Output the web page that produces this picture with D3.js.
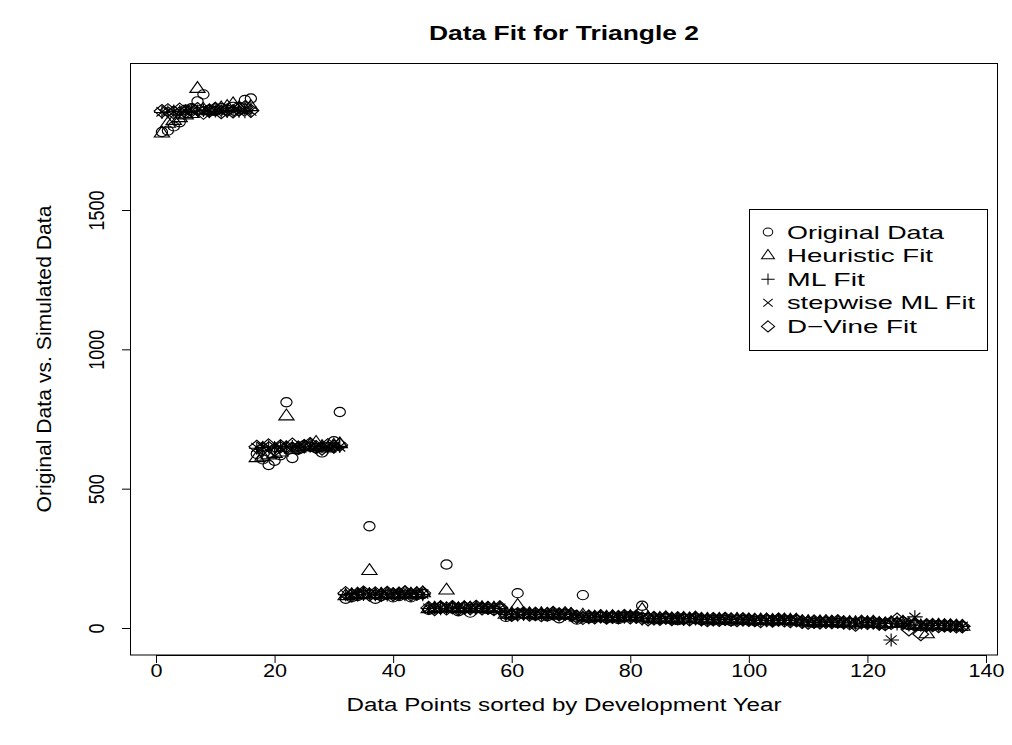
<!DOCTYPE html>
<html><head><meta charset="utf-8">
<script src="https://cdn.jsdelivr.net/npm/d3@7/dist/d3.min.js"></script>
<style>body{margin:0;background:#fff}svg{display:block}text{font-family:"Liberation Sans",Arial,Helvetica,sans-serif;fill:#000}</style>
</head><body><svg id="c" width="1012" height="745"></svg>
<script>
const original = [
1780,1785,1800,1815,1860,1865,1890,1915,1860,1855,1865,1860,1870,1870,1895,1900,
625,605,585,600,620,810,610,640,655,650,645,630,650,670,775,
105,110,115,120,365,105,115,120,110,115,120,110,118,122,
65,70,75,228,72,60,75,55,70,72,68,65,70,
40,45,125,50,48,45,50,42,48,35,50,45,
30,118,35,38,40,35,38,32,40,42,38,
80,35,30,32,35,30,28,32,30,35,
28,30,27,30,28,25,30,28,27,
25,28,30,25,27,30,26,28,
20,22,18,20,22,20,18,
18,20,15,22,18,20,
15,12,20,18,22,
10,12,8,10,
8,10,6,
8,6,
5];
const heuristic = [
1775,1810,1820,1830,1840,1845,1935,1860,1855,1860,1865,1870,1880,1865,1860,1870,
610,615,620,625,630,760,640,645,650,655,665,650,645,655,660,
115,118,120,122,205,118,120,122,118,120,125,120,122,125,
68,70,72,135,70,68,72,70,70,72,68,70,70,
48,50,80,50,50,48,50,48,50,45,50,48,
38,45,38,38,40,38,40,36,40,40,38,
65,35,32,33,35,32,30,33,32,34,
30,30,28,30,29,28,30,28,28,
27,28,28,26,27,28,27,27,
22,22,20,21,22,20,20,
18,19,18,20,18,20,
15,14,18,16,20,
12,10,5,-22,
8,9,7,
7,6,
5];
const mlFit = [
1850,1852,1855,1853,1856,1854,1855,1857,1853,1856,1855,1854,1856,1855,1853,1856,
645,648,650,647,652,649,651,648,650,653,649,651,648,650,652,
120,122,119,121,123,120,122,119,121,123,120,122,121,120,
70,72,69,71,73,70,72,69,71,70,72,71,70,
48,50,47,49,51,48,50,47,49,48,50,49,
38,40,37,39,41,38,40,37,39,40,38,
33,35,32,34,36,33,35,32,34,33,
30,31,29,30,32,30,31,29,30,
27,28,26,27,29,27,28,26,
21,22,20,21,22,20,21,
18,19,17,18,20,18,
15,16,-43,15,16,
11,40,10,11,
9,10,8,
7,8,
6];
const stepwiseFit = [
1852,1855,1853,1856,1854,1855,1857,1853,1856,1855,1854,1856,1855,1853,1856,1855,
648,650,647,652,649,651,648,650,653,649,651,648,650,652,650,
121,119,121,123,120,122,119,121,123,120,122,121,120,122,
71,69,71,73,70,72,69,71,70,72,71,70,71,
49,47,49,51,48,50,47,49,48,50,49,48,
39,37,39,41,38,40,37,39,40,38,39,
34,32,34,36,33,35,32,34,33,34,
31,29,30,32,30,31,29,30,31,
28,26,27,29,27,28,26,27,
22,20,21,22,20,21,20,
19,17,18,20,18,19,
16,14,-43,15,17,
12,38,11,10,
10,8,9,
8,7,
6];
const dvineFit = [
1855,1858,1850,1860,1852,1857,1862,1849,1856,1863,1851,1858,1854,1860,1868,1856,
650,645,655,640,652,648,658,646,653,660,649,644,656,651,657,
125,118,122,127,120,124,119,126,121,123,128,120,124,126,
72,68,74,70,75,69,73,71,76,70,72,68,74,
52,47,50,53,48,51,46,50,54,49,51,48,
40,36,41,38,42,37,40,39,43,38,41,
35,31,36,33,37,32,35,34,31,36,
31,28,32,29,33,30,28,31,29,
28,25,29,26,30,27,25,28,
22,19,23,20,22,21,24,
20,17,12,21,18,20,
16,14,18,30,20,
-5,12,-22,10,
10,7,9,
8,6,
6];
const xTicks = [0,20,40,60,80,100,120,140];
const yTicks = [0,500,1000,1500];
const legendLabels = ["Original Data","Heuristic Fit","ML Fit","stepwise ML Fit","D\u2212Vine Fit"];

const svg = d3.select("#c");
const x = d3.scaleLinear().domain([0,140]).range([156,986]);
const y = d3.scaleLinear().domain([0,1500]).range([628,210]);
const idx = original.map((d,i)=>i+1);

// symbol paths (R pch 1,2,3,4,5), slightly wider than tall as in the reference
const shapes = {
  circle: "M-5.6,0A5.6,4.6 0 1,0 5.6,0A5.6,4.6 0 1,0 -5.6,0Z",
  triangle: "M0,-7.2L7.6,3.6L-7.6,3.6Z",
  plus: "M-7.8,0L7.8,0M0,-6.6L0,6.6",
  cross: "M-5.5,-4.6L5.5,4.6M-5.5,4.6L5.5,-4.6",
  diamond: "M0,-6.6L7.8,0L0,6.6L-7.8,0Z"
};
const series = [
  {vals: original, shape: "circle"},
  {vals: heuristic, shape: "triangle"},
  {vals: mlFit, shape: "plus"},
  {vals: stepwiseFit, shape: "cross"},
  {vals: dvineFit, shape: "diamond"}
];

svg.append("rect").attr("x",130.5).attr("y",63.5).attr("width",867).attr("height",591.5)
  .attr("fill","none").attr("stroke","#000").attr("stroke-width",1);

const pts = svg.append("g");
series.forEach(s=>{
  pts.selectAll(null).data(s.vals).enter().append("path")
    .attr("d",shapes[s.shape])
    .attr("transform",(d,i)=>`translate(${x(idx[i])},${y(d)})`)
    .attr("fill","none").attr("stroke","#000").attr("stroke-width",1.15);
});

// x axis
const xa = svg.append("g").attr("transform","translate(0,655)")
  .call(d3.axisBottom(x).tickValues(xTicks).tickSize(8).tickFormat(d3.format("d")));
xa.select(".domain").attr("d",`M${x(0)},0.5H${x(140)}`).attr("stroke","#000");
xa.selectAll("line").attr("stroke","#000");
xa.selectAll(".tick text").attr("font-size","18px").attr("font-family","Liberation Sans, Arial, sans-serif")
  .attr("y",0).attr("dy",0).attr("transform","translate(0,22) scale(1.2,1)");

// y axis
const ya = svg.append("g").attr("transform","translate(130,0)")
  .call(d3.axisLeft(y).tickValues(yTicks).tickSize(8).tickFormat(d3.format("d")));
ya.select(".domain").attr("d",`M0.5,${y(0)}V${y(1500)}`).attr("stroke","#000");
ya.selectAll("line").attr("stroke","#000");
ya.selectAll(".tick text").attr("font-size","18px").attr("font-family","Liberation Sans, Arial, sans-serif")
  .attr("text-anchor","middle").attr("x",0).attr("dy",0)
  .attr("transform","translate(-26,0) scale(1.2,1) rotate(-90)");

// title and labels
svg.append("text").attr("x",564).attr("y",40).attr("text-anchor","middle")
  .attr("font-size","20px").attr("font-weight","bold")
  .attr("textLength",270).attr("lengthAdjust","spacingAndGlyphs").text("Data Fit for Triangle 2");
svg.append("text").attr("x",564).attr("y",711).attr("text-anchor","middle")
  .attr("font-size","18px").attr("textLength",435).attr("lengthAdjust","spacingAndGlyphs")
  .text("Data Points sorted by Development Year");
svg.append("text").attr("transform","translate(51,359) rotate(-90)").attr("text-anchor","middle")
  .attr("font-size","20px").attr("textLength",307).attr("lengthAdjust","spacingAndGlyphs")
  .text("Original Data vs. Simulated Data");

// legend
const legendWidths = [157,146,78,188,130];
const lg = svg.append("g");
lg.append("rect").attr("x",749.5).attr("y",209.5).attr("width",238).attr("height",141)
  .attr("fill","#fff").attr("stroke","#000");
legendLabels.forEach((t,i)=>{
  const yy = 232 + i*23.6;
  lg.append("path").attr("d",shapes[series[i].shape])
    .attr("transform",`translate(768,${yy}) scale(0.85)`)
    .attr("fill","none").attr("stroke","#000").attr("stroke-width",1.2);
  lg.append("text").attr("x",787).attr("y",yy+6.5).attr("font-size","18.5px")
    .attr("textLength",legendWidths[i]).attr("lengthAdjust","spacingAndGlyphs").text(t);
});
</script></body></html>
